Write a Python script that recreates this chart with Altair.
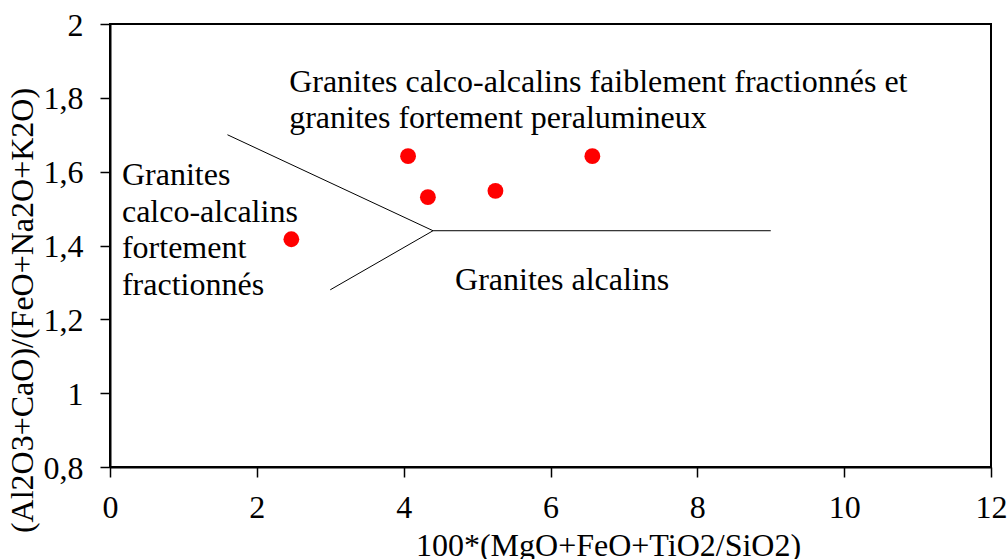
import altair as alt
import pandas as pd

FONT = "Liberation Serif"

# sample points
px = [2.47, 4.06, 4.33, 5.25, 6.57]
py = [1.417, 1.642, 1.531, 1.548, 1.642]

# discrimination boundary lines (segment id, x, y)
seg_id = ["a", "a", "b", "b", "c", "c"]
seg_x = [1.6, 4.4, 4.4, 9.0, 4.4, 3.0]
seg_y = [1.70, 1.44, 1.44, 1.44, 1.44, 1.28]

# field labels
lab_text = [
    ["Granites calco-alcalins faiblement fractionnés et", "granites fortement peralumineux"],
    ["Granites", "calco-alcalins", "fortement", "fractionnés"],
    ["Granites alcalins"],
]
lab_x = [2.44, 0.163, 4.70]
lab_y = [1.8165, 1.5637, 1.279]

x_ticks = [0, 2, 4, 6, 8, 10, 12]
y_ticks = [0.8, 1.0, 1.2, 1.4, 1.6, 1.8, 2.0]

pts = pd.DataFrame({"x": px, "y": py})
segs = pd.DataFrame({"id": seg_id, "x": seg_x, "y": seg_y, "o": list(range(len(seg_id)))})
labs = pd.DataFrame({"t": lab_text, "x": lab_x, "y": lab_y})

xs = alt.Scale(domain=[0, 12], nice=False, zero=False)
ys = alt.Scale(domain=[0.8, 2.0], nice=False, zero=False)

xaxis = alt.Axis(
    values=x_ticks, grid=False, title="100*(MgO+FeO+TiO2/SiO2)", format="d",
    domainColor="black", domainWidth=2, tickColor="black", tickWidth=1.5, tickSize=10,
    labelFont=FONT, labelFontSize=32, labelColor="black", labelBaseline="alphabetic",
    labelPadding=40, labelFlush=False, labelOverlap=False,
    titleFont=FONT, titleFontSize=32, titleFontWeight="normal", titleColor="black",
    titleX=498, titleY=88, titleBaseline="alphabetic", titleAnchor="start", titleAlign="center",
)
yaxis = alt.Axis(
    values=y_ticks, grid=False, title="(Al2O3+CaO)/(FeO+Na2O+K2O)",
    labelExpr="replace(format(datum.value, '~g'), '.', ',')",
    domainColor="black", domainWidth=2, tickColor="black", tickWidth=1.5, tickSize=10,
    labelFont=FONT, labelFontSize=32, labelColor="black", labelBaseline="alphabetic",
    labelPadding=17, labelOffset=11, labelFlush=False, labelOverlap=False,
    titleFont=FONT, titleFontSize=32, titleFontWeight="normal", titleColor="black",
    titleX=-71, titleY=286, titleAngle=270, titleBaseline="bottom", titleAlign="center",
    titleAnchor="start",
)

lines = alt.Chart(segs).mark_line(color="black", strokeWidth=1).encode(
    x=alt.X("x:Q", scale=xs, axis=xaxis),
    y=alt.Y("y:Q", scale=ys, axis=yaxis),
    detail="id:N",
    order="o:Q",
)

points = alt.Chart(pts).mark_point(filled=True, shape="circle", size=250, color="#ff0000", opacity=1).encode(
    x=alt.X("x:Q", scale=xs),
    y=alt.Y("y:Q", scale=ys),
)

texts = alt.Chart(labs).mark_text(
    font=FONT, fontSize=32, color="black", align="left", baseline="alphabetic", lineHeight=36.6
).encode(
    x=alt.X("x:Q", scale=xs),
    y=alt.Y("y:Q", scale=ys),
    text="t",
)

chart = alt.layer(lines, points, texts).properties(
    width=881, height=443,
    autosize=alt.AutoSizeParams(type="none"),
    padding={"left": 110, "top": 24, "right": 17, "bottom": 92},
    background="white",
).configure_view(stroke="black", strokeWidth=2)

chart.save("out.html", embed_options={"renderer": "svg", "actions": False})
